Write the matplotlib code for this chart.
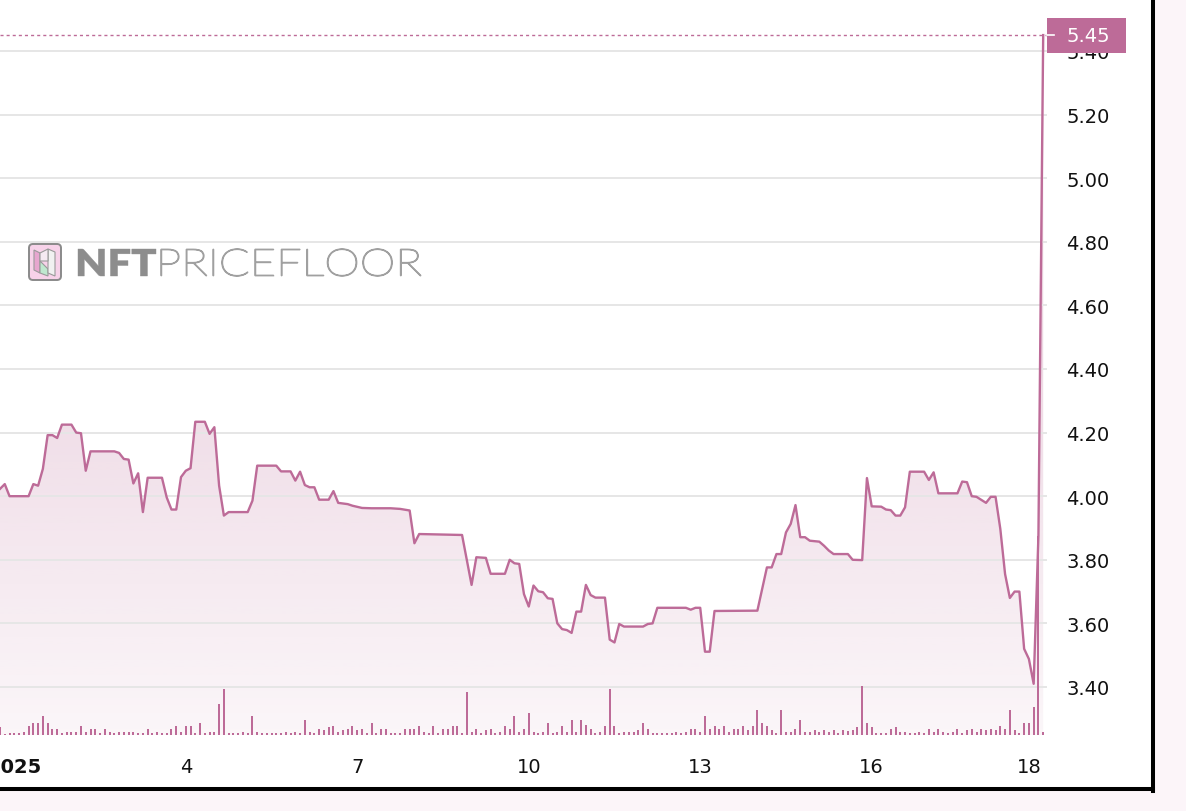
import matplotlib
matplotlib.use("Agg")
import matplotlib.pyplot as plt
import numpy as np
from matplotlib.patches import Rectangle, FancyBboxPatch, PathPatch, Polygon
from matplotlib.lines import Line2D
from matplotlib.textpath import TextPath
from matplotlib.font_manager import FontProperties
from matplotlib.transforms import Affine2D, blended_transform_factory

# floor price, read at its turning points (x = 2-hour bar index)
bar_idx = [0, 1, 2, 6, 7, 8, 9, 10, 11, 12, 13, 15, 16, 17, 18, 19, 24, 25, 26, 27,
           28, 29, 30, 31, 34, 35, 36, 37, 38, 39, 40, 41, 43, 44, 45, 46, 47, 48, 52, 53,
           54, 58, 59, 61, 62, 63, 64, 65, 66, 67, 69, 70, 71, 73, 74, 76, 78, 82, 84, 86,
           87, 88, 97, 99, 100, 102, 103, 106, 107, 108, 109, 110, 111, 112, 113, 114, 115, 116, 117, 118,
           119, 120, 121, 122, 123, 124, 125, 127, 128, 129, 130, 131, 135, 136, 137, 138, 144, 145, 146, 147,
           148, 149, 150, 159, 161, 162, 163, 164, 165, 166, 167, 168, 169, 170, 172, 173, 174, 175, 178, 179,
           181, 182, 183, 185, 186, 187, 188, 189, 190, 191, 194, 195, 196, 197, 201, 202, 203, 204, 205, 207,
           208, 209, 210, 211, 212, 213, 214, 215, 216, 217, 218, 219]
floor_price = [4.023, 4.038, 4.000, 4.000, 4.038, 4.033, 4.086, 4.192, 4.192, 4.183, 4.225, 4.225, 4.200, 4.198, 4.080, 4.141, 4.141, 4.136, 4.117, 4.115,
               4.040, 4.072, 3.950, 4.058, 4.058, 3.996, 3.958, 3.958, 4.060, 4.080, 4.088, 4.234, 4.234, 4.196, 4.217, 4.033, 3.939, 3.950, 3.950, 3.986,
               4.096, 4.096, 4.078, 4.078, 4.049, 4.077, 4.035, 4.028, 4.028, 3.989, 3.989, 4.016, 3.979, 3.975, 3.970, 3.963, 3.962, 3.962, 3.960, 3.955,
               3.852, 3.881, 3.878, 3.721, 3.808, 3.806, 3.756, 3.756, 3.800, 3.789, 3.787, 3.692, 3.653, 3.719, 3.701, 3.698, 3.679, 3.677, 3.600, 3.582,
               3.579, 3.570, 3.637, 3.637, 3.721, 3.689, 3.681, 3.681, 3.549, 3.540, 3.598, 3.590, 3.590, 3.598, 3.600, 3.649, 3.649, 3.643, 3.649, 3.649,
               3.511, 3.511, 3.639, 3.640, 3.776, 3.776, 3.818, 3.818, 3.886, 3.913, 3.972, 3.871, 3.871, 3.860, 3.857, 3.844, 3.829, 3.818, 3.818, 3.800,
               3.799, 4.057, 3.968, 3.967, 3.958, 3.956, 3.939, 3.939, 3.965, 4.077, 4.077, 4.051, 4.075, 4.009, 4.009, 4.046, 4.044, 4.000, 3.998, 3.979,
               3.998, 3.998, 3.897, 3.755, 3.680, 3.700, 3.700, 3.520, 3.488, 3.410, 3.876, 5.450]

# sales volume per bar (relative units)
volume = [8, 1, 2, 2, 2, 3, 9, 12, 12, 19, 12, 6, 6, 2, 3, 3, 3, 9, 3, 6,
          6, 2, 6, 3, 2, 3, 3, 3, 3, 2, 2, 6, 2, 3, 2, 2, 6, 9, 3, 9,
          9, 2, 12, 2, 3, 3, 31, 46, 2, 2, 2, 3, 2, 19, 3, 2, 2, 2, 2, 2,
          3, 2, 3, 2, 15, 3, 2, 6, 5, 8, 9, 3, 5, 6, 9, 5, 6, 2, 12, 2,
          6, 6, 2, 2, 2, 6, 6, 6, 9, 3, 2, 9, 2, 6, 6, 9, 9, 2, 43, 3,
          6, 2, 5, 6, 2, 3, 9, 6, 19, 3, 6, 22, 3, 2, 3, 12, 2, 3, 9, 3,
          15, 3, 15, 10, 6, 2, 3, 9, 46, 9, 2, 3, 3, 3, 5, 12, 6, 2, 2, 2,
          2, 2, 3, 2, 3, 6, 6, 3, 19, 6, 9, 6, 9, 3, 6, 6, 9, 5, 9, 25,
          12, 9, 5, 2, 25, 3, 3, 6, 15, 3, 3, 5, 3, 5, 3, 5, 2, 5, 4, 5,
          8, 49, 12, 8, 2, 2, 2, 6, 8, 3, 3, 2, 2, 3, 2, 6, 3, 6, 3, 2,
          3, 6, 2, 5, 6, 3, 6, 5, 6, 5, 9, 6, 25, 5, 2, 12, 12, 28, 200, 3]

tick_bars = [3, 39, 75, 111, 147, 183, 216]
tick_labels = ['2025', '4', '7', '10', '13', '16', '18']
price_ticks = [3.40, 3.60, 3.80, 4.00, 4.20, 4.40, 4.60, 4.80, 5.00, 5.20, 5.40]
last_price = 5.45

LINE = '#bd6b98'
W, H, DPI = 1186, 812, 100

fig = plt.figure(figsize=(W / DPI, H / DPI), dpi=DPI, facecolor='#fcf5f9')
px = Affine2D().scale(1 / DPI) + fig.dpi_scale_trans  # pixel units, origin bottom left


def rect(x0, y0, x1, y1):
    # pixel box with top-left origin -> figure fraction
    return [x0 / W, 1 - y1 / H, (x1 - x0) / W, (y1 - y0) / H]


# white card with a heavy black border on right and bottom
fig.add_artist(Rectangle((0, H - 790), 1153, 790, transform=px, facecolor='white', edgecolor='none', zorder=0))
fig.add_artist(Line2D([1153, 1153], [H, H - 792], transform=px, color='black', lw=2.9, solid_capstyle='projecting'))
fig.add_artist(Line2D([0, 1153], [H - 790, H - 790], transform=px, color='black', lw=2.9, solid_capstyle='projecting'))

ax = fig.add_axes(rect(0, 0, 1047, 736))
ax.set_facecolor('none')
ymin, ymax = 3.249, 5.5635
for s in ax.spines.values():
    s.set_visible(False)

ax.set_yticks(price_ticks, [f'{v:.2f}' for v in price_ticks])
ax.yaxis.tick_right()
ax.grid(axis='y', color='#e6e6e6', lw=1.4)
ax.tick_params(axis='y', length=0, pad=14, labelsize=14, labelcolor='#111111')
ax.set_xticks(tick_bars, tick_labels)
ax.tick_params(axis='x', length=0, pad=16, labelsize=14, labelcolor='#111111')
ax.get_xticklabels()[0].set_fontweight('bold')

# area with vertical gradient
poly = ax.fill_between(bar_idx, floor_price, ymin, color='none', lw=0)
alpha = np.linspace(0.42, 0.06, 256)
grad = np.zeros((256, 1, 4))
grad[..., 0], grad[..., 1], grad[..., 2] = 189 / 255, 107 / 255, 152 / 255
grad[:, 0, 3] = alpha
im = ax.imshow(grad, extent=[0, 219.8, ymin, last_price], aspect='auto', origin='upper', zorder=1)
im.set_clip_path(poly.get_paths()[0], transform=ax.transData)
ax.set_xlim(0, 219.8)
ax.set_ylim(ymin, ymax)

ax.plot(bar_idx, floor_price, color=LINE, lw=1.7, zorder=3)
ax.axhline(last_price, color=LINE, lw=1.0, ls=(0, (2.2, 2.2)), zorder=3)

# last price tag
tr = blended_transform_factory(ax.transAxes, ax.transData)
ax.add_patch(Rectangle((1.0, last_price - 0.055), 79 / 1047, 0.11, transform=tr,
                       facecolor=LINE, edgecolor='none', clip_on=False, zorder=10))
ax.add_line(Line2D([1.0, 1.0067], [last_price, last_price], transform=tr, color='white', lw=1.2,
                   clip_on=False, zorder=11))
ax.text(1.039, last_price, f'{last_price:.2f}', transform=tr, color='white', fontsize=14,
        ha='center', va='center', zorder=12, clip_on=False)

# volume histogram overlay
vax = fig.add_axes(rect(0, 0, 1047, 736), sharex=ax)
vax.patch.set_visible(False)
vax.axis('off')
vax.bar(np.arange(len(volume)), volume, width=0.42, color=LINE, lw=0)
vax.set_ylim(0, 740)
vax.set_xlim(0, 219.8)

# watermark
fig.add_artist(FancyBboxPatch((29, H - 281), 32, 36, boxstyle='round,pad=0,rounding_size=4', transform=px,
                              facecolor='#f7d2e9', edgecolor='#8a8a8a', lw=1.4, zorder=1))
fig.add_artist(Polygon([(34, H - 251), (40, H - 254), (40, H - 274), (34, H - 271)], closed=True, transform=px,
                       facecolor='#e7a6cf', edgecolor='#9a9a9a', lw=0.8, zorder=2))
fig.add_artist(Polygon([(40, H - 262), (48, H - 270), (48, H - 277), (40, H - 274)], closed=True, transform=px,
                       facecolor='#bfe8cf', edgecolor='#9a9a9a', lw=0.8, zorder=2))
fig.add_artist(Polygon([(48, H - 250), (55, H - 253), (55, H - 277), (48, H - 274)], closed=True, transform=px,
                       facecolor='#f1f1f1', edgecolor='#9a9a9a', lw=0.8, zorder=2))
fig.add_artist(Polygon([(40, H - 254), (48, H - 250), (48, H - 262), (40, H - 262)], closed=True, transform=px,
                       facecolor='#f5eaf2', edgecolor='#9a9a9a', lw=0.8, zorder=2))


def word(txt, weight, x0, x1, top, base, color, stroke):
    tp = TextPath((0, 0), txt, size=1, prop=FontProperties(family='Lato', weight=weight))
    ext = tp.get_extents()
    sx = (x1 - x0) / ext.width
    sy = (base - top) / ext.height
    t = Affine2D().translate(-ext.x0, -ext.y0).scale(sx, sy).translate(x0, H - base) + px
    fig.add_artist(PathPatch(tp, transform=t, facecolor=color, edgecolor=color, lw=stroke, zorder=2))


word('NFT', 'heavy', 78, 156, 250, 277, '#8d8d8d', 0.3)
word('PRICEFLOOR', 'light', 161, 421, 250, 277, '#a0a0a0', 1.0)

fig.savefig('out.png', dpi=DPI, facecolor=fig.get_facecolor())
